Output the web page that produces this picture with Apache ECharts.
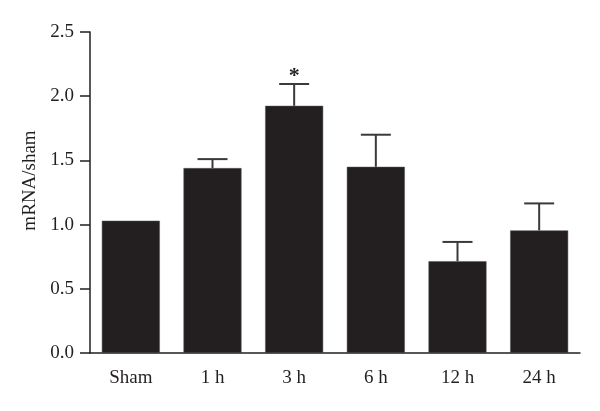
<!DOCTYPE html>
<html>
<head>
<meta charset="utf-8">
<script src="https://cdn.jsdelivr.net/npm/echarts@6/dist/echarts.min.js"></script>
<style>html,body{margin:0;padding:0;background:#fff;}#main{width:600px;height:411px;}</style>
</head>
<body>
<div id="main"></div>
<script>
var categories = ['Sham', '1 h', '3 h', '6 h', '12 h', '24 h'];
var means = [1.03, 1.44, 1.925, 1.45, 0.715, 0.955];
var errorTops = [1.03, 1.51, 2.095, 1.70, 0.865, 1.165];
var significance = ['', '', '*', '', '', ''];
var yTicks = [0, 0.5, 1.0, 1.5, 2.0, 2.5];

var FONT = '"Liberation Serif", "DejaVu Serif", serif';
var chart = echarts.init(document.getElementById('main'));
var errData = categories.map(function (c, i) { return [i, means[i], errorTops[i], significance[i]]; });

chart.setOption({
  animation: false,
  grid: { left: 90, right: 20, top: 32, bottom: 58 },
  xAxis: {
    type: 'category',
    data: categories,
    axisLine: { lineStyle: { color: '#231f20', width: 1.5 } },
    axisTick: { alignWithLabel: true, length: 8, lineStyle: { color: '#231f20', width: 1.5 } },
    axisLabel: { color: '#231f20', fontFamily: FONT, fontSize: 19, margin: 16 }
  },
  yAxis: {
    type: 'value',
    min: yTicks[0],
    max: yTicks[yTicks.length - 1],
    interval: 0.5,
    name: 'mRNA/sham',
    nameLocation: 'middle',
    nameGap: 50,
    nameTextStyle: { color: '#231f20', fontFamily: FONT, fontSize: 19, padding: [0, 0, 0, 24] },
    axisLine: { show: true, lineStyle: { color: '#231f20', width: 1.5 } },
    axisTick: { show: true, length: 10, lineStyle: { color: '#231f20', width: 1.5 } },
    axisLabel: { color: '#231f20', fontFamily: FONT, fontSize: 19, margin: 16,
      formatter: function (v) { return v.toFixed(1); } },
    splitLine: { show: false }
  },
  series: [
    {
      type: 'bar',
      data: means,
      barWidth: 58,
      itemStyle: { color: '#231f20', borderColor: '#555', borderWidth: 0.5 }
    },
    {
      type: 'custom',
      data: errData,
      z: 1,
      renderItem: function (params, api) {
        var x = api.value(0);
        var base = api.coord([x, api.value(1)]);
        var top = api.coord([x, api.value(2)]);
        var half = 15;
        var children = [];
        if (api.value(2) > api.value(1)) {
          children.push({ type: 'line', shape: { x1: base[0], y1: base[1], x2: top[0], y2: top[1] },
            style: { stroke: '#3a3a3a', lineWidth: 2 } });
          children.push({ type: 'line', shape: { x1: top[0] - half, y1: top[1], x2: top[0] + half, y2: top[1] },
            style: { stroke: '#3a3a3a', lineWidth: 2 } });
        }
        var sig = significance[params.dataIndex];
        if (sig) {
          children.push({ type: 'text', style: { text: sig, x: top[0], y: top[1] - 8,
            align: 'center', verticalAlign: 'middle', fontSize: 22, fontWeight: 'bold', fontFamily: FONT, fill: '#231f20' } });
        }
        return { type: 'group', children: children };
      }
    }
  ]
});
</script>
</body>
</html>
